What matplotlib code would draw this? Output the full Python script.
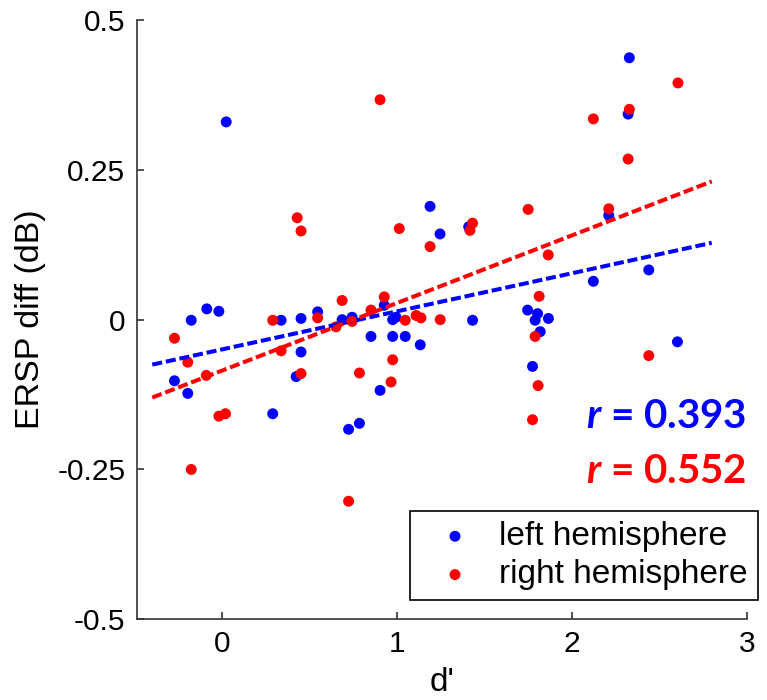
import matplotlib
matplotlib.use("Agg")
import matplotlib.pyplot as plt
import numpy as np

# ---- data ----
left_x = [-0.273, -0.197, -0.177, -0.088, -0.019, 0.023, 0.289, 0.337, 0.423, 0.451,
          0.451, 0.546, 0.686, 0.723, 0.743, 0.785, 0.851, 0.903, 0.927, 0.975,
          0.994, 0.975, 1.047, 1.133, 1.189, 1.246, 1.432, 1.410, 1.747, 1.804,
          1.790, 1.866, 1.819, 1.775, 2.123, 2.211, 2.322, 2.329, 2.440, 2.604]
left_y = [-0.102, -0.123, -0.001, 0.018, 0.014, 0.330, -0.157, -0.001, -0.095, 0.002,
          -0.054, 0.013, 0.000, -0.183, 0.004, -0.173, -0.028, -0.118, 0.024, 0.000,
          0.004, -0.028, -0.028, -0.042, 0.189, 0.143, -0.001, 0.155, 0.016, 0.010,
          -0.001, 0.002, -0.020, -0.078, 0.064, 0.174, 0.343, 0.437, 0.083, -0.037]

right_x = [-0.273, -0.197, -0.177, -0.091, -0.019, 0.019, 0.289, 0.337, 0.429, 0.451,
           0.451, 0.546, 0.651, 0.686, 0.723, 0.743, 0.785, 0.851, 0.903, 0.927,
           0.966, 0.975, 1.013, 1.047, 1.109, 1.137, 1.189, 1.247, 1.417, 1.432,
           1.750, 1.790, 1.807, 1.775, 1.813, 1.865, 2.123, 2.211, 2.322, 2.329,
           2.440, 2.607]
right_y = [-0.031, -0.071, -0.250, -0.093, -0.161, -0.157, -0.001, -0.052, 0.170, 0.148,
           -0.090, 0.003, -0.012, 0.032, -0.303, -0.003, -0.089, 0.016, 0.367, 0.038,
           -0.104, -0.067, 0.152, -0.001, 0.007, 0.003, 0.122, 0.000, 0.149, 0.161,
           0.184, -0.028, -0.110, -0.167, 0.039, 0.108, 0.335, 0.185, 0.268, 0.351,
           -0.060, 0.395]

# fitted regression lines (slope, intercept)
left_fit = (0.0635, -0.0496)
right_fit = (0.1127, -0.0849)
fit_range = [-0.4, 2.8]

series_labels = ["left hemisphere", "right hemisphere"]
r_texts = ["0.393", "0.552"]
x_ticks = [0, 1, 2, 3]
y_ticks = [-0.5, -0.25, 0, 0.25, 0.5]
y_ticklabels = ["-0.5", "-0.25", "0", "0.25", "0.5"]

plt.rcParams['font.family'] = ['Liberation Sans', 'DejaVu Sans']
plt.rcParams['mathtext.fontset'] = 'custom'
plt.rcParams['mathtext.bfit'] = 'Lato:italic:bold'

fig = plt.figure(figsize=(7.67, 7.00), dpi=100)
ax = fig.add_axes([0.178, 0.1153, 0.9735 - 0.178, 0.9714 - 0.1153])

BLUE = (0, 0, 1)
RED = (1, 0, 0)

ax.scatter(left_x, left_y, s=62, color=BLUE, edgecolors='none', label=series_labels[0], zorder=2)
ax.scatter(right_x, right_y, s=62, color=RED, edgecolors='none', label=series_labels[1], zorder=3)

xf = np.array(fit_range)
ax.plot(xf, left_fit[0] * xf + left_fit[1], color=BLUE, lw=2.9, dashes=(2.5, 0.95), zorder=4)
ax.plot(xf, right_fit[0] * xf + right_fit[1], color=RED, lw=2.9, dashes=(2.5, 0.95), zorder=4)

ax.set_xlim(-0.49, 3)
ax.set_ylim(-0.5, 0.5)
ax.set_xticks(x_ticks)
ax.set_yticks(y_ticks)
ax.set_yticklabels(y_ticklabels)
ax.spines['top'].set_visible(False)
ax.spines['right'].set_visible(False)
for sp in ['left', 'bottom']:
    ax.spines[sp].set_color('#333333')
    ax.spines[sp].set_linewidth(1.2)
ax.tick_params(direction='in', length=5, width=1.2, color='#333333', labelsize=21.5, pad=8)

ax.set_xlabel("d'", fontsize=24, labelpad=6)
ax.set_ylabel("ERSP diff (dB)", fontsize=24.5, labelpad=8)

# correlation texts
for txt, col, yb in [(r_texts[0], BLUE, 428), (r_texts[1], RED, 483)]:
    fig.text(746 / 767, 1 - yb / 700, r"$\mathbfit{r}$" + " = " + txt, color=col,
             fontsize=29, fontweight='bold', ha='right', va='baseline',
             family=['Lato', 'DejaVu Sans'])

leg = ax.legend(loc='upper left', bbox_to_anchor=(410 / 767, 1 - 511 / 700),
                bbox_transform=fig.transFigure, borderaxespad=0, fancybox=False,
                edgecolor='black', fontsize=24, markerscale=1.0, handletextpad=0.27,
                borderpad=0.3, labelspacing=0.22, handlelength=2.1, framealpha=1)
leg.get_frame().set_linewidth(1.2)

fig.savefig("out.png", dpi=100)
